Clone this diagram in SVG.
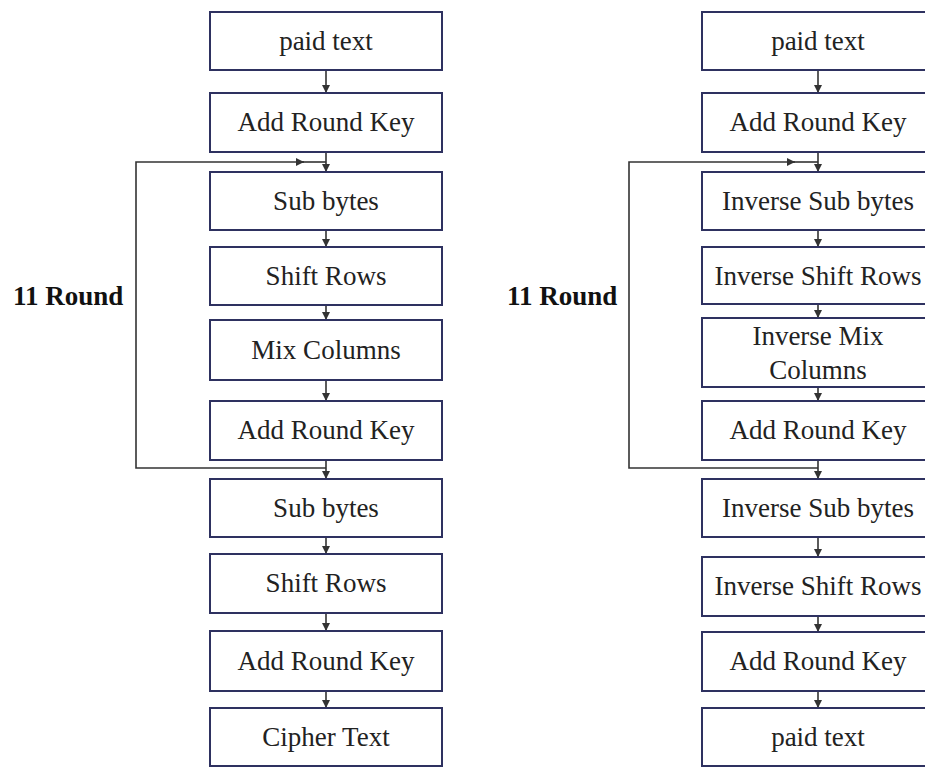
<svg xmlns="http://www.w3.org/2000/svg" width="925" height="767" viewBox="0 0 925 767" font-family="Liberation Serif, DejaVu Serif, serif">
<style>
.box{fill:#fff;stroke:#2e3160;stroke-width:2}
.t{font-size:27px;fill:#222;text-anchor:middle}
.lbl{font-size:27px;font-weight:bold;fill:#111}
.c{fill:none;stroke:#333;stroke-width:1.6}
</style>
<defs>
<marker id="ah" markerUnits="userSpaceOnUse" markerWidth="8" markerHeight="8" refX="8" refY="4" orient="auto">
<path d="M0,0 L8,4 L0,8 z" fill="#333"/>
</marker>
</defs>
<rect width="925" height="767" fill="#fff"/>
<g id="connectors">
<line class="c" x1="326" y1="70" x2="326" y2="93" marker-end="url(#ah)"/>
<line class="c" x1="326" y1="152" x2="326" y2="172" marker-end="url(#ah)"/>
<line class="c" x1="326" y1="230" x2="326" y2="247" marker-end="url(#ah)"/>
<line class="c" x1="326" y1="305" x2="326" y2="320" marker-end="url(#ah)"/>
<line class="c" x1="326" y1="380" x2="326" y2="401" marker-end="url(#ah)"/>
<line class="c" x1="326" y1="460" x2="326" y2="479" marker-end="url(#ah)"/>
<line class="c" x1="326" y1="537" x2="326" y2="554" marker-end="url(#ah)"/>
<line class="c" x1="326" y1="613" x2="326" y2="631" marker-end="url(#ah)"/>
<line class="c" x1="326" y1="691" x2="326" y2="708" marker-end="url(#ah)"/>
<polyline class="c" points="326,468 136,468 136,162 304,162" marker-end="url(#ah)"/>
<line class="c" x1="300" y1="162" x2="326" y2="162"/>
<line class="c" x1="818" y1="70" x2="818" y2="93" marker-end="url(#ah)"/>
<line class="c" x1="818" y1="152" x2="818" y2="172" marker-end="url(#ah)"/>
<line class="c" x1="818" y1="230" x2="818" y2="247" marker-end="url(#ah)"/>
<line class="c" x1="818" y1="304" x2="818" y2="318" marker-end="url(#ah)"/>
<line class="c" x1="818" y1="387" x2="818" y2="401" marker-end="url(#ah)"/>
<line class="c" x1="818" y1="460" x2="818" y2="479" marker-end="url(#ah)"/>
<line class="c" x1="818" y1="537" x2="818" y2="557" marker-end="url(#ah)"/>
<line class="c" x1="818" y1="616" x2="818" y2="632" marker-end="url(#ah)"/>
<line class="c" x1="818" y1="691" x2="818" y2="708" marker-end="url(#ah)"/>
<polyline class="c" points="818,468 629,468 629,162 795,162" marker-end="url(#ah)"/>
<line class="c" x1="791" y1="162" x2="818" y2="162"/>
</g>
<g id="label-left"><text class="lbl" x="13" y="305">11 Round</text></g>
<g id="label-right"><text class="lbl" x="507" y="305">11 Round</text></g>
<g id="L1"><rect class="box" x="210" y="12" width="232" height="58"/><text class="t" x="326" y="50">paid text</text></g>
<g id="L2"><rect class="box" x="210" y="93" width="232" height="59"/><text class="t" x="326" y="131">Add Round Key</text></g>
<g id="L3"><rect class="box" x="210" y="172" width="232" height="58"/><text class="t" x="326" y="210">Sub bytes</text></g>
<g id="L4"><rect class="box" x="210" y="247" width="232" height="58"/><text class="t" x="326" y="285">Shift Rows</text></g>
<g id="L5"><rect class="box" x="210" y="320" width="232" height="60"/><text class="t" x="326" y="359">Mix Columns</text></g>
<g id="L6"><rect class="box" x="210" y="401" width="232" height="59"/><text class="t" x="326" y="439">Add Round Key</text></g>
<g id="L7"><rect class="box" x="210" y="479" width="232" height="58"/><text class="t" x="326" y="517">Sub bytes</text></g>
<g id="L8"><rect class="box" x="210" y="554" width="232" height="59"/><text class="t" x="326" y="592">Shift Rows</text></g>
<g id="L9"><rect class="box" x="210" y="631" width="232" height="60"/><text class="t" x="326" y="670">Add Round Key</text></g>
<g id="L10"><rect class="box" x="210" y="708" width="232" height="58"/><text class="t" x="326" y="746">Cipher Text</text></g>
<g id="R1"><rect class="box" x="702" y="12" width="232" height="58"/><text class="t" x="818" y="50">paid text</text></g>
<g id="R2"><rect class="box" x="702" y="93" width="232" height="59"/><text class="t" x="818" y="131">Add Round Key</text></g>
<g id="R3"><rect class="box" x="702" y="172" width="232" height="58"/><text class="t" x="818" y="210">Inverse Sub bytes</text></g>
<g id="R4"><rect class="box" x="702" y="247" width="232" height="57"/><text class="t" x="818" y="285">Inverse Shift Rows</text></g>
<g id="R5"><rect class="box" x="702" y="318" width="232" height="69"/><text class="t" x="818" y="345">Inverse Mix</text><text class="t" x="818" y="379">Columns</text></g>
<g id="R6"><rect class="box" x="702" y="401" width="232" height="59"/><text class="t" x="818" y="439">Add Round Key</text></g>
<g id="R7"><rect class="box" x="702" y="479" width="232" height="58"/><text class="t" x="818" y="517">Inverse Sub bytes</text></g>
<g id="R8"><rect class="box" x="702" y="557" width="232" height="59"/><text class="t" x="818" y="595">Inverse Shift Rows</text></g>
<g id="R9"><rect class="box" x="702" y="632" width="232" height="59"/><text class="t" x="818" y="670">Add Round Key</text></g>
<g id="R10"><rect class="box" x="702" y="708" width="232" height="58"/><text class="t" x="818" y="746">paid text</text></g>
</svg>
